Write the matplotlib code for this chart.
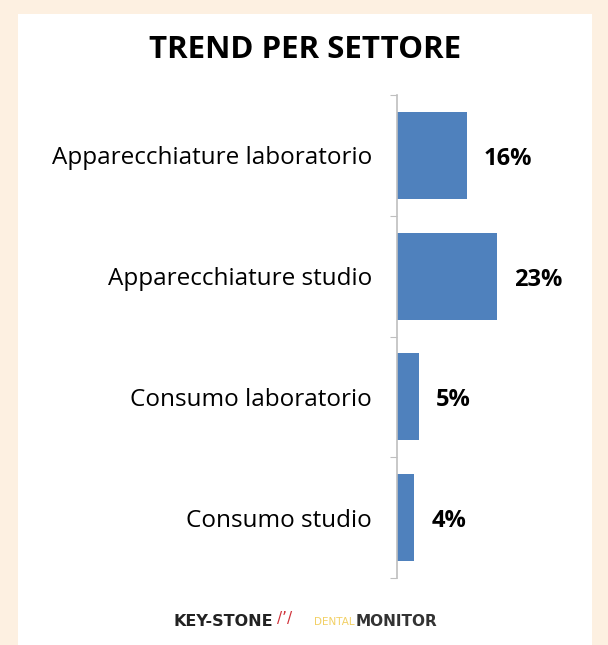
import matplotlib.pyplot as plt
from matplotlib.patches import Rectangle

# data
categories = ["Apparecchiature laboratorio", "Apparecchiature studio",
              "Consumo laboratorio", "Consumo studio"]
values = [16, 23, 5, 4]
value_labels = ["16%", "23%", "5%", "4%"]

W, H = 608, 645
fig = plt.figure(figsize=(W / 100, H / 100), dpi=100, facecolor="#FDF0E1")

# white panel
fig.patches.append(Rectangle((18 / W, 0), (592 - 18) / W, 1 - 14 / H,
                             transform=fig.transFigure, facecolor="white",
                             edgecolor="none", zorder=-5))

ax = fig.add_axes([397 / W, 1 - 578 / H, 182 / W, (578 - 95) / H])
ax.set_facecolor("none")
ax.set_zorder(2)

ypos = list(range(len(categories)))
ax.barh(ypos, values, height=0.72, color="#4F81BD")
ax.set_ylim(len(categories) - 0.5, -0.5)
ax.set_xlim(0, 182 / 4.35)

for y, v, lab in zip(ypos, values, value_labels):
    ax.text(v + 3.9, y + 0.03, lab, va="center", ha="left", fontsize=17,
            fontweight="bold", family="Open Sans", color="black")

# axis: ticks at category boundaries, labels at centers
ax.set_yticks([i - 0.5 for i in range(len(categories) + 1)])
ax.set_yticklabels([])
ax.set_yticks(ypos, minor=True)
ax.set_yticklabels(categories, minor=True, fontsize=17.5, family="Open Sans")
for t in ax.get_yticklabels(minor=True):
    t.set_y(t.get_position()[1])
ax.tick_params(axis="y", which="major", length=5, color="#BFBFBF", direction="out")
ax.tick_params(axis="y", which="minor", length=0, pad=18)
ax.set_xticks([])
for s in ["top", "right", "bottom"]:
    ax.spines[s].set_visible(False)
ax.spines["left"].set_color("#BFBFBF")
ax.spines["left"].set_linewidth(1.2)

fig.text(305 / W, 1 - 50 / H, "TREND PER SETTORE", ha="center", va="center",
         fontsize=22.5, fontweight="bold", family="Open Sans")

# footer logos as text
fig.text(273 / W, 1 - 622 / H, "KEY-STONE", ha="right", va="center",
         fontsize=11.5, fontweight="bold", family="DejaVu Sans", color="#222222")
fig.text(277 / W, 1 - 619 / H, "/ʼ/", ha="left", va="center",
         fontsize=11, color="#D0343C")
fig.text(355 / W, 1 - 622 / H, "DENTAL", ha="right", va="center",
         fontsize=7.5, family="DejaVu Sans", color="#F2D064")
fig.text(356 / W, 1 - 622 / H, "MONITOR", ha="left", va="center",
         fontsize=11, fontweight="bold", family="DejaVu Sans", color="#333333")

fig.savefig("out.png", dpi=100, facecolor=fig.get_facecolor())
